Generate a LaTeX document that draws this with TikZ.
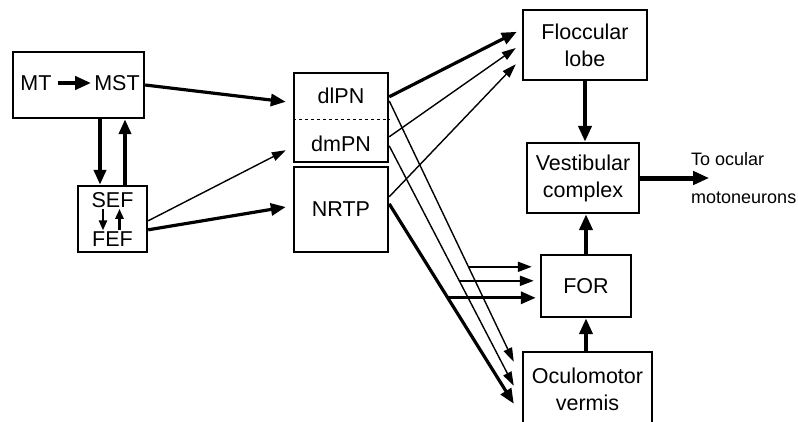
\documentclass[tikz,border=0pt]{standalone}
\usepackage{fontspec}
\setmainfont{Liberation Sans}
\usetikzlibrary{arrows.meta,calc}
\begin{document}
\begin{tikzpicture}[x=1pt,y=-1pt,
  box/.style={draw,line width=2.4pt,inner sep=0pt,align=center,font=\fontsize{21.5}{27}\selectfont},
  txt/.style={inner sep=0pt,font=\fontsize{21.5}{27}\selectfont},
  lbl/.style={inner sep=0pt,font=\fontsize{18}{22}\selectfont},
  thinarr/.style={line width=1.4pt,-{Triangle[length=14pt,width=9pt]}},
  medarr/.style={line width=2pt,-{Triangle[length=14pt,width=10pt]}},
  thickarr/.style={line width=3.2pt,-{Triangle[length=15pt,width=12pt]}},
  heavyarr/.style={line width=4.5pt,-{Triangle[length=16pt,width=13pt]}},
  smallarr/.style={line width=2.4pt,-{Triangle[length=10pt,width=8pt]}},
]
\useasboundingbox (0,0) rectangle (798,421);
\clip (0,0) rectangle (798,421);

% boxes
\node[box,minimum width=131pt,minimum height=66pt] (mtbox) at (78.5,85) {};
\node[txt] (mt) at (36,83) {MT};
\node[txt] (mst) at (117,83) {MST};

\node[box,minimum width=69pt,minimum height=66pt] (sef) at (112.5,219) {};
\node[txt] (sefl) at (112.5,200) {SEF};
\node[txt] (fefl) at (112.5,239) {FEF};

\node[box,minimum width=94pt,minimum height=89pt] (pn) at (341,117.5) {};
\node[txt] (dlpn) at (341,96) {dlPN};
\node[txt] (dmpn) at (341,144) {dmPN};
\node[box,minimum width=94pt,minimum height=85pt] (nrtp) at (341,209.5) {NRTP};

\node[box,minimum width=124pt,minimum height=70pt] (floc) at (585,45) {Floccular\\lobe};
\node[box,minimum width=112pt,minimum height=70pt] (vest) at (583,178) {Vestibular\\complex};
\node[box,minimum width=90pt,minimum height=62pt] (for) at (586,286) {FOR};
\node[box,minimum width=129pt,minimum height=74pt] (ocu) at (587.5,389) {Oculomotor\\vermis};

% dashed divider
\draw[dashed,dash pattern=on 3pt off 3pt,line width=0.9pt]
  ([yshift=-1.5pt]pn.west) -- ([yshift=-1.5pt]pn.east);

% MT -> MST
\draw[heavyarr,shorten <=6pt,shorten >=3pt] (mt.east) -- (mst.west);

% MT/MST <-> SEF
\coordinate (dnA) at ([xshift=-12.5pt]sef.north);
\coordinate (upA) at ([xshift=12.5pt]sef.north);
\draw[thickarr,line width=4pt] (dnA |- mtbox.south) -- (dnA);
\draw[thickarr,line width=4pt] (upA) -- (upA |- mtbox.south);

% SEF <-> FEF
\coordinate (sd1) at ([xshift=-9.5pt,yshift=-1pt]sefl.south);
\coordinate (sd2) at ([xshift=7pt,yshift=-1pt]sefl.south);
\draw[smallarr] (sd1) -- ([yshift=1pt]sd1 |- fefl.north);
\draw[smallarr] ([yshift=1pt]sd2 |- fefl.north) -- (sd2);

% to pontine nuclei
\draw[thickarr] (mtbox.east) -- ([xshift=-7pt,yshift=-30pt]pn.north west);
\draw[thinarr] ([yshift=-36pt]sef.north east) -- ([xshift=-7pt,yshift=13pt]pn.south west);
\draw[thickarr] ([yshift=-45pt]sef.north east) -- ([xshift=-7pt,yshift=2.5pt]nrtp.west);

% to floccular lobe
\draw[thickarr] ([yshift=-25pt]pn.north east) -- ([xshift=-5pt,yshift=-23pt]floc.north west);
\draw[thinarr] ([yshift=-65pt]pn.north east) -- ([xshift=-6pt,yshift=-3pt]floc.west);
\draw[thinarr] ([yshift=-31pt]nrtp.north east) -- ([xshift=-6pt,yshift=17pt]floc.south west);

% to oculomotor vermis
\coordinate (l1s) at ([yshift=-29pt]pn.north east);
\coordinate (l1e) at ([xshift=-8pt,yshift=-11pt]ocu.north west);
\coordinate (l2s) at ([yshift=-74pt]pn.north east);
\coordinate (l2e) at ([xshift=-8pt,yshift=-35pt]ocu.north west);
\coordinate (l3s) at ([yshift=-38pt]nrtp.north east);
\coordinate (l3e) at ([xshift=-8pt,yshift=-53pt]ocu.north west);
\draw[thinarr] (l1s) -- (l1e);
\draw[thinarr] (l2s) -- (l2e);
\draw[thickarr] (l3s) -- (l3e);

% branches to FOR
\coordinate (b1) at ($(l1s)!0.636!(l1e)$);
\coordinate (b2) at ($(l2s)!0.5625!(l2e)$);
\coordinate (b3) at ($(l3s)!0.47!(l3e)$);
\draw[medarr,shorten >=8pt] (b1) -- (b1 -| for.west);
\draw[medarr,shorten >=6pt] (b2) -- (b2 -| for.west);
\draw[thickarr,shorten >=4pt] (b3) -- (b3 -| for.west);

% vertical chain
\draw[heavyarr] (floc.south) -- (floc.south |- vest.north);
\draw[heavyarr] (for.north) -- (for.north |- vest.south);
\draw[heavyarr] (for.south |- ocu.north) -- (for.south);

% output
\coordinate (outend) at ([xshift=69pt]vest.east);
\draw[heavyarr,line width=5pt] (vest.east) -- (outend);
\node[lbl,anchor=base west] (lab1) at (691,165) {To ocular};
\node[lbl,anchor=base west] (lab2) at (691,203) {motoneurons};
\end{tikzpicture}
\end{document}
